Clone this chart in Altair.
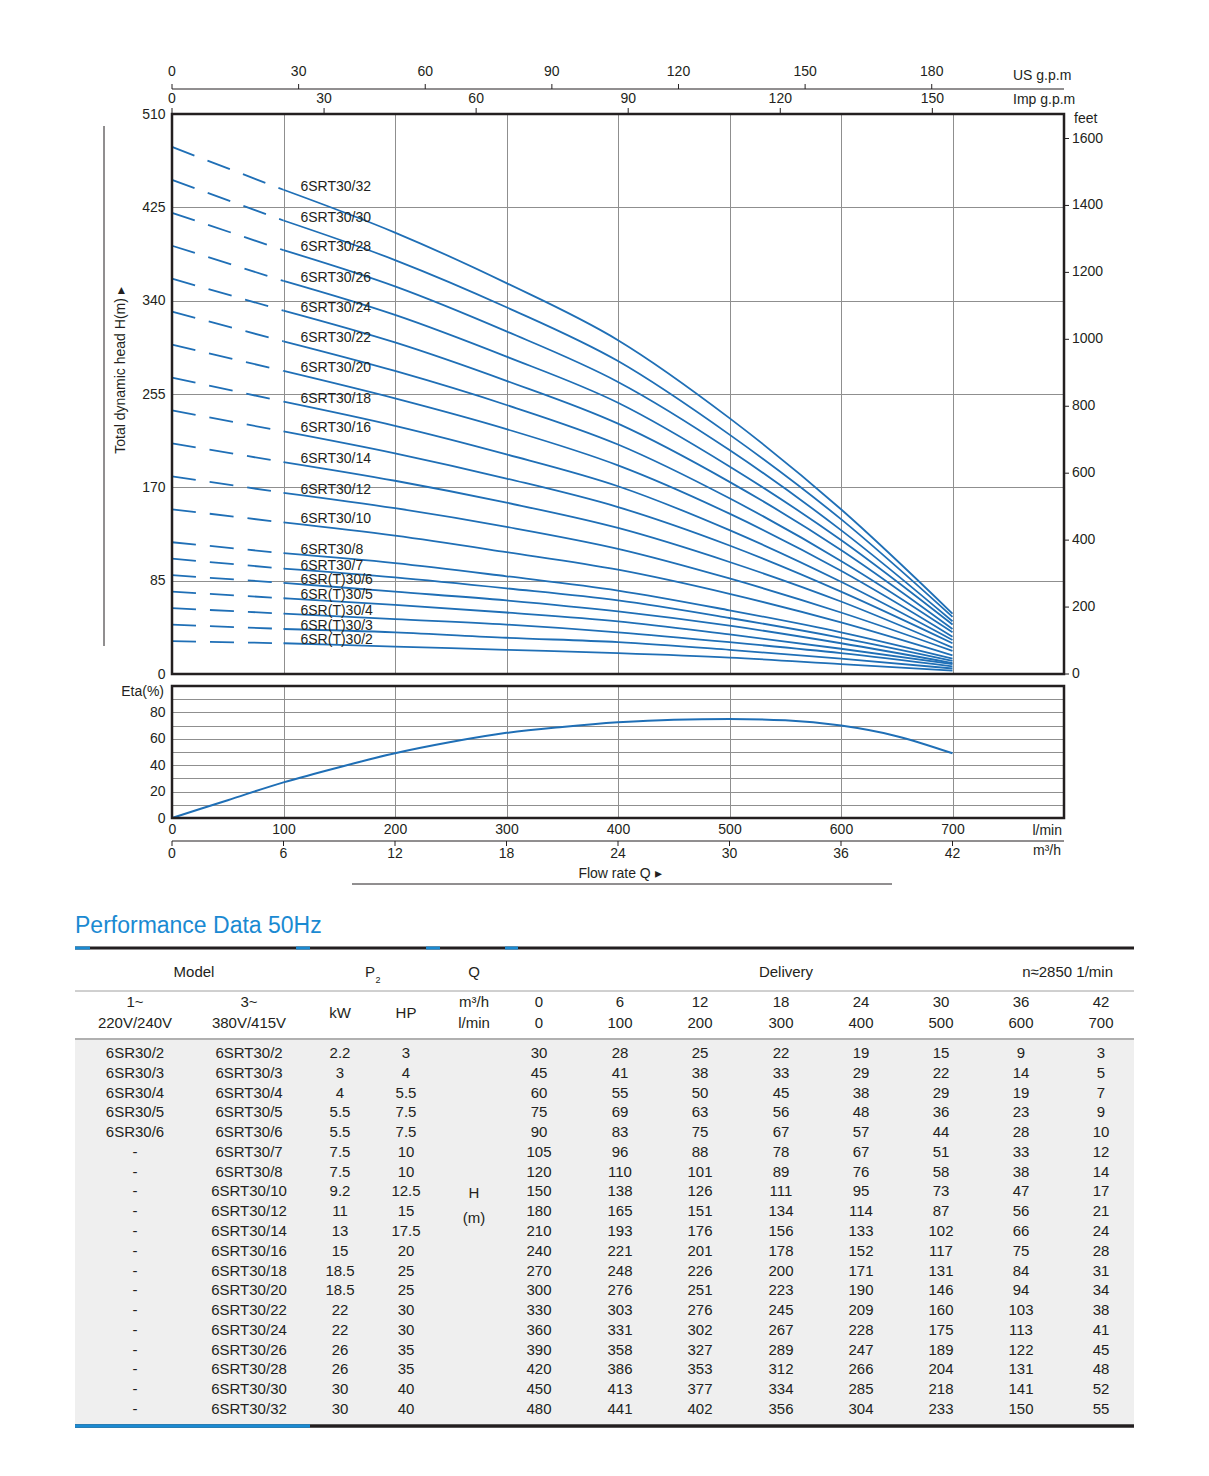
import altair as alt
import pandas as pd

# ---------------- data ----------------
Q_LMIN = [0, 100, 200, 300, 400, 500, 600, 700]
Q_M3H = [0, 6, 12, 18, 24, 30, 36, 42]
US_TICKS = [0, 30, 60, 90, 120, 150, 180]
IMP_TICKS = [0, 30, 60, 90, 120, 150]
HEAD_TICKS = [0, 85, 170, 255, 340, 425, 510]
FEET_TICKS = [0, 200, 400, 600, 800, 1000, 1200, 1400, 1600]
ETA_TICKS = [0, 10, 20, 30, 40, 50, 60, 70, 80, 90, 100]

MODEL_1PH = ["6SR30/2", "6SR30/3", "6SR30/4", "6SR30/5", "6SR30/6"] + ["-"] * 14
MODEL_3PH = ["6SRT30/2", "6SRT30/3", "6SRT30/4", "6SRT30/5", "6SRT30/6", "6SRT30/7",
             "6SRT30/8", "6SRT30/10", "6SRT30/12", "6SRT30/14", "6SRT30/16", "6SRT30/18",
             "6SRT30/20", "6SRT30/22", "6SRT30/24", "6SRT30/26", "6SRT30/28", "6SRT30/30",
             "6SRT30/32"]
CURVE_LABEL = ["6SR(T)30/2", "6SR(T)30/3", "6SR(T)30/4", "6SR(T)30/5", "6SR(T)30/6",
               "6SRT30/7", "6SRT30/8", "6SRT30/10", "6SRT30/12", "6SRT30/14", "6SRT30/16",
               "6SRT30/18", "6SRT30/20", "6SRT30/22", "6SRT30/24", "6SRT30/26", "6SRT30/28",
               "6SRT30/30", "6SRT30/32"]
KW = ["2.2", "3", "4", "5.5", "5.5", "7.5", "7.5", "9.2", "11", "13", "15", "18.5", "18.5",
      "22", "22", "26", "26", "30", "30"]
HP = ["3", "4", "5.5", "7.5", "7.5", "10", "10", "12.5", "15", "17.5", "20", "25", "25",
      "30", "30", "35", "35", "40", "40"]
HEAD = [
    [30, 28, 25, 22, 19, 15, 9, 3],
    [45, 41, 38, 33, 29, 22, 14, 5],
    [60, 55, 50, 45, 38, 29, 19, 7],
    [75, 69, 63, 56, 48, 36, 23, 9],
    [90, 83, 75, 67, 57, 44, 28, 10],
    [105, 96, 88, 78, 67, 51, 33, 12],
    [120, 110, 101, 89, 76, 58, 38, 14],
    [150, 138, 126, 111, 95, 73, 47, 17],
    [180, 165, 151, 134, 114, 87, 56, 21],
    [210, 193, 176, 156, 133, 102, 66, 24],
    [240, 221, 201, 178, 152, 117, 75, 28],
    [270, 248, 226, 200, 171, 131, 84, 31],
    [300, 276, 251, 223, 190, 146, 94, 34],
    [330, 303, 276, 245, 209, 160, 103, 38],
    [360, 331, 302, 267, 228, 175, 113, 41],
    [390, 358, 327, 289, 247, 189, 122, 45],
    [420, 386, 353, 312, 266, 204, 131, 48],
    [450, 413, 377, 334, 285, 218, 141, 52],
    [480, 441, 402, 356, 304, 233, 150, 55],
]
ETA_Q = [0, 50, 100, 150, 200, 250, 300, 350, 400, 450, 500, 550, 600, 650, 700]
ETA = [0, 13.5, 27, 38.5, 49, 57.5, 64.5, 69, 72.5, 74.5, 75, 74, 70, 62, 49]

TITLE = "Performance Data 50Hz"

# unit conversions
LMIN_PER_USGPM = 3.78541
LMIN_PER_IMPGPM = 4.54609
M_PER_FT = 0.3048

# ---------------- styles ----------------
FONT = "Liberation Sans"
DARK = "#231f20"
GRID = "#8f8f8f"
BLUE = "#1f6fb6"
TBLUE = "#1a8ad2"
BG = "#efefef"

curves = pd.DataFrame([
    {"model": m, "label": lab, "q": q, "h": h}
    for m, lab, row in zip(MODEL_3PH, CURVE_LABEL, HEAD)
    for q, h in zip(Q_LMIN, row)
])
eta_df = pd.DataFrame({"q": ETA_Q, "eta": ETA})
ONE = pd.DataFrame({"k": [0]})


def note(txt, x, y, size=15, align="center", color=DARK, baseline="middle"):
    return alt.Chart(pd.DataFrame({"t": [txt]})).mark_text(
        align=align, baseline=baseline, fontSize=size, color=color
    ).encode(x=alt.value(x), y=alt.value(y), text="t:N")


def hline(x1, x2, y, color, width):
    return alt.Chart(ONE).mark_rule(color=color, strokeWidth=width).encode(
        x=alt.value(x1), x2=alt.value(x2), y=alt.value(y))


def frame(w, h):
    return alt.Chart(ONE).mark_rect(filled=False, stroke=DARK, strokeWidth=2.5).encode(
        x=alt.value(0), x2=alt.value(w), y=alt.value(0), y2=alt.value(h))


W = 892
H_TOP = 560
H_ETA = 132


def qscale():
    return alt.Scale(domain=[0, 800], nice=False, zero=False)


def hscale():
    return alt.Scale(domain=[0, 510], nice=False, zero=False)


XQ = alt.X("q:Q", scale=qscale(), axis=alt.Axis(
    values=list(range(0, 801, 100)), grid=True, gridColor=GRID, gridWidth=1,
    labels=False, ticks=False, domain=False, title=None))
YH = alt.Y("h:Q", scale=hscale(), axis=alt.Axis(
    values=HEAD_TICKS, grid=True, gridColor=GRID, gridWidth=1, ticks=False, domain=False,
    labelPadding=7, title="Total dynamic head H(m)  \u25b8", titleAngle=270,
    titleX=-52, titleY=256, titleAlign="center", titleBaseline="middle"))

solid = alt.Chart(curves).transform_filter("datum.q >= 100").mark_line(
    color=BLUE, strokeWidth=1.8, interpolate="monotone").encode(
    x=XQ, y=YH, detail="model:N")
dashed = alt.Chart(curves).transform_filter("datum.q <= 100").mark_line(
    color=BLUE, strokeWidth=1.8, strokeDash=[24, 14]).encode(x=XQ, y=YH, detail="model:N")
labels = alt.Chart(curves).transform_filter("datum.q == 100").mark_text(
    align="left", baseline="middle", dx=17, dy=-3, fontSize=14, color=DARK).encode(
    x=XQ, y=YH, text="label:N")
side_rule = alt.Chart(ONE).mark_rule(color=DARK, strokeWidth=1).encode(
    x=alt.value(-68), y=alt.value(12), y2=alt.value(532))

# secondary top axes (US / Imp gallons) drawn through the l/min scale
us_df = pd.DataFrame({"v": US_TICKS})
imp_df = pd.DataFrame({"v": IMP_TICKS})
us_ticks = alt.Chart(us_df).transform_calculate(q=f"datum.v * {LMIN_PER_USGPM}").mark_rule(
    color=DARK, strokeWidth=1).encode(x=XQ, y=alt.value(-25), y2=alt.value(-30))
us_labels = alt.Chart(us_df).transform_calculate(q=f"datum.v * {LMIN_PER_USGPM}").mark_text(
    fontSize=14, color=DARK, baseline="middle").encode(x=XQ, y=alt.value(-42), text="v:N")
imp_ticks = alt.Chart(imp_df).transform_calculate(q=f"datum.v * {LMIN_PER_IMPGPM}").mark_rule(
    color=DARK, strokeWidth=1).encode(x=XQ, y=alt.value(0), y2=alt.value(-6))
imp_labels = alt.Chart(imp_df).transform_calculate(q=f"datum.v * {LMIN_PER_IMPGPM}").mark_text(
    fontSize=14, color=DARK, baseline="middle").encode(x=XQ, y=alt.value(-15), text="v:N")

# secondary right axis (feet) drawn through the metre scale
ft_df = pd.DataFrame({"v": FEET_TICKS})
ft_ticks = alt.Chart(ft_df).transform_calculate(h=f"datum.v * {M_PER_FT}").mark_rule(
    color=DARK, strokeWidth=1).encode(y=YH, x=alt.value(W), x2=alt.value(W + 5))
ft_labels = alt.Chart(ft_df).transform_calculate(h=f"datum.v * {M_PER_FT}").mark_text(
    fontSize=14, color=DARK, baseline="middle", align="left").encode(
    y=YH, x=alt.value(W + 8), text="v:N")

top = alt.layer(
    solid, dashed, labels, side_rule, frame(W, H_TOP),
    hline(0, W, -25, DARK, 1), us_ticks, us_labels, imp_ticks, imp_labels,
    ft_ticks, ft_labels,
    note("US g.p.m", 841, -38, size=14, align="left"),
    note("Imp g.p.m", 841, -14, size=14, align="left"),
    note("feet", 10 + W, 5, size=14, align="left"),
).properties(width=W, height=H_TOP)

# ---------------- efficiency panel ----------------
XE = alt.X("q:Q", scale=qscale(), axis=alt.Axis(
    orient="bottom", values=Q_LMIN, grid=True, gridColor=GRID, ticks=False, domain=False,
    labelPadding=4, labelFlush=False, title=None))
YE = alt.Y("eta:Q", scale=alt.Scale(domain=[0, 100], nice=False, zero=False), axis=alt.Axis(
    values=ETA_TICKS, grid=True, gridColor=GRID, ticks=False, domain=False, labelPadding=7,
    labelExpr="(datum.value % 20 == 0 && datum.value < 100) ? datum.label : ''",
    title=None))
eta_line = alt.Chart(eta_df).mark_line(color=BLUE, strokeWidth=2, interpolate="monotone").encode(
    x=XE, y=YE)

m3_df = pd.DataFrame({"v": Q_M3H})
m3_ticks = alt.Chart(m3_df).transform_calculate(q="datum.v * 1000 / 60").mark_rule(
    color=DARK, strokeWidth=1).encode(x=XE, y=alt.value(155), y2=alt.value(160))
m3_labels = alt.Chart(m3_df).transform_calculate(q="datum.v * 1000 / 60").mark_text(
    fontSize=14, color=DARK, baseline="middle").encode(x=XE, y=alt.value(168), text="v:N")

eta = alt.layer(
    eta_line, frame(W, H_ETA),
    hline(0, W, 155, DARK, 1), m3_ticks, m3_labels,
    note("Eta(%)", -8, 6, size=14, align="right"),
    note("l/min", 890, 145, size=14, align="right"),
    note("m\u00b3/h", 889, 165, size=14, align="right"),
    note("Flow rate Q  \u25b8", 448, 188, size=14),
    hline(180, 720, 198, DARK, 1),
).properties(width=W, height=H_ETA)

# ---------------- table ----------------
TW = 962
TH = 601
COL_PX = [-37, 77, 168, 234, 302, 367, 448, 528, 609, 689, 769, 849, 929]
ROW0, ROWN = 223, 579
span = (len(MODEL_3PH) - 1) * TH / (ROWN - ROW0)
d0 = -ROW0 * span / TH
rscale = alt.Scale(domain=[d0, d0 + span], reverse=True, zero=False, nice=False)

cells = []
for i in range(len(MODEL_3PH)):
    vals = [MODEL_1PH[i], MODEL_3PH[i], KW[i], HP[i]]
    for ci, v in enumerate(vals):
        cells.append({"i": i, "ci": ci, "t": v})
    for j, v in enumerate(HEAD[i]):
        cells.append({"i": i, "ci": 5 + j, "t": str(v)})
cells = pd.DataFrame(cells)

layers = [
    alt.Chart(ONE).mark_rect(color=BG).encode(
        x=alt.value(-97), x2=alt.value(TW), y=alt.value(210), y2=alt.value(594)),
    hline(-97, TW, 118, DARK, 3),
    hline(-97, -82, 118, TBLUE, 3),
    hline(124, 138, 118, TBLUE, 3),
    hline(254, 268, 118, TBLUE, 3),
    hline(333, 346, 118, TBLUE, 3),
    hline(-97, TW, 161, "#a0a0a0", 1),
    hline(-97, TW, 209, "#b0b0b0", 2),
    hline(-97, TW, 596, DARK, 3.5),
    hline(-97, 138, 596, TBLUE, 3.5),
    note(TITLE, -97, 96, size=23, align="left", color=TBLUE),
    note("Model", 22, 142),
    note("P", 198, 142),
    note("2", 206, 150, size=9),
    note("Q", 302, 142),
    note("Delivery", 614, 142),
    note("n\u22482850 1/min", 941, 142, align="right"),
]
head2 = [(0, "1~"), (1, "3~"), (4, "m\u00b3/h")] + [(5 + j, str(v)) for j, v in enumerate(Q_M3H)]
head3 = [(0, "220V/240V"), (1, "380V/415V"), (4, "l/min")] + \
        [(5 + j, str(v)) for j, v in enumerate(Q_LMIN)]
for ci, t in head2:
    layers.append(note(t, COL_PX[ci], 172))
for ci, t in head3:
    layers.append(note(t, COL_PX[ci], 193))
layers.append(note("kW", COL_PX[2], 183))
layers.append(note("HP", COL_PX[3], 183))
layers.append(note("H", COL_PX[4], 363))
layers.append(note("(m)", COL_PX[4], 388))

for ci in [0, 1, 2, 3, 5, 6, 7, 8, 9, 10, 11, 12]:
    layers.append(
        alt.Chart(cells).transform_filter(f"datum.ci == {ci}").mark_text(
            fontSize=15, color=DARK, baseline="middle").encode(
            x=alt.value(COL_PX[ci]),
            y=alt.Y("i:Q", scale=rscale, axis=None),
            text="t:N"))

table = alt.layer(*layers).properties(width=TW, height=TH)

chart = alt.vconcat(top, eta, table, spacing=12, bounds="flush").properties(
    padding={"left": 65, "top": 57, "right": 12, "bottom": 12}
).configure(font=FONT).configure_view(strokeWidth=0).configure_axis(
    labelFont=FONT, titleFont=FONT, labelFontSize=14, titleFontSize=14,
    labelColor=DARK, titleColor=DARK, titleFontWeight="normal", labelOverlap=False)

chart.save("out.html", embed_options={"renderer": "svg", "actions": False})
